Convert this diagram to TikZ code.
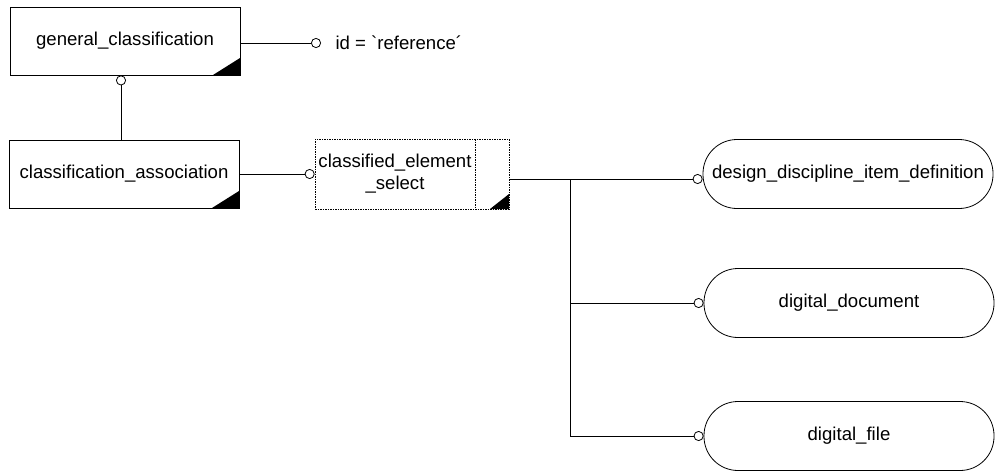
\documentclass[tikz,border=0pt]{standalone}
\usepackage{fontspec}
\newfontfamily\lsans{Liberation Sans}
\usetikzlibrary{arrows.meta,positioning,calc}

\begin{document}
\begin{tikzpicture}[x=1pt,y=-1pt,
    every node/.style={font=\lsans\fontsize{18.6}{22}\selectfont},
    entity/.style={draw,line width=0.8pt,minimum width=230pt,minimum height=68pt,inner sep=0pt,
      path picture={\fill (path picture bounding box.south east) -- ++(-27pt,0pt) -- ++(27pt,17pt) -- cycle;}},
    selbox/.style={draw,line width=0.7pt,dash pattern=on 1.5pt off 1pt,minimum width=194pt,minimum height=70pt,inner sep=0pt,
      path picture={\fill (path picture bounding box.south east) -- ++(-19pt,0pt) -- ++(19pt,15pt) -- cycle;
        \draw[line width=0.7pt,dash pattern=on 1.5pt off 1pt] ([xshift=-34pt]path picture bounding box.north east) -- ([xshift=-34pt]path picture bounding box.south east);}},
    stadium/.style={draw,line width=0.8pt,rounded corners=34pt,minimum width=290pt,minimum height=69pt,inner sep=0pt},
    link/.style={line width=0.8pt,-{Circle[open,length=10pt,width=10pt]}}]
  \useasboundingbox (0,0) rectangle (995,471);
  % entities
  \node[entity] (gc) at (125,41) {general\_classification};
  \node[entity] (ca) at (124,174) {classification\_association};
  \node[anchor=west] (idlbl) at (332,43) {id = `reference\symbol{180}};
  % select type
  \node[selbox] (sel) at (412,174) {};
  \node[align=center] (seltxt) at (395,174) {classified\_element\\\_select};
  % selected items
  \node[stadium] (ddid) at (848,174) {design\_discipline\_item\_definition};
  \node[stadium] (ddoc) at (849,303) {digital\_document};
  \node[stadium] (dfile) at (849,436) {digital\_file};
  % links
  \draw[link] (gc.east |- idlbl) -- ([xshift=-11pt]idlbl.west);
  \draw[link] (ca.north -| 121,0) -- (gc.south -| 121,0);
  \draw[link] (ca.east) -- (sel.west);
  \coordinate (fork) at (570,179);
  \draw[link] (fork -| sel.east) -- (fork -| ddid.west);
  \draw[link] (fork) |- (ddoc.west);
  \draw[link] (fork) |- (dfile.west);
\end{tikzpicture}
\end{document}
